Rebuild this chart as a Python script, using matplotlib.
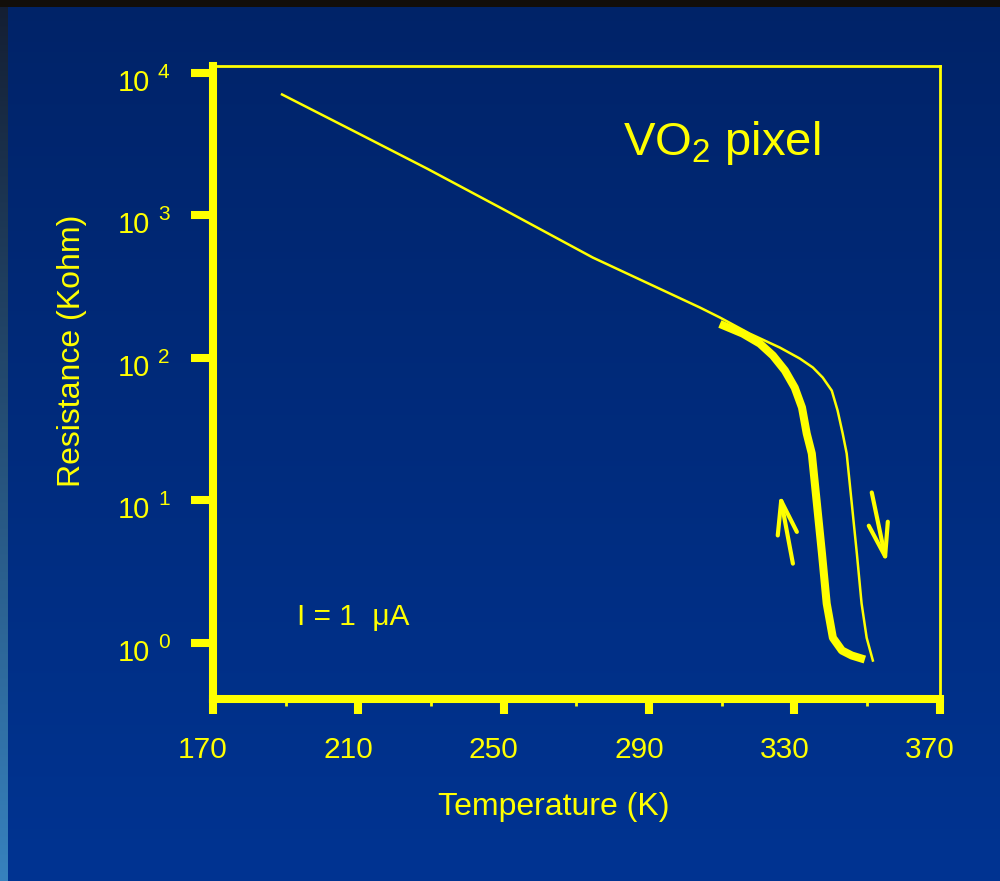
import numpy as np
import matplotlib.pyplot as plt
import matplotlib.transforms as mtransforms

plt.rcParams['font.family'] = ['Liberation Sans', 'DejaVu Sans']
plt.rcParams['mathtext.fontset'] = 'custom'
plt.rcParams['mathtext.rm'] = 'Liberation Sans'
plt.rcParams['mathtext.it'] = 'Liberation Sans:italic'
plt.rcParams['mathtext.default'] = 'regular'

# heating run (thin line): temperature (K), resistance (Kohm)
T_heat = [189.0, 210.0, 228.9, 250.0, 274.5, 304.0, 309.5, 317.7, 326.0, 331.5,
          335.1, 337.8, 340.3, 341.9, 343.3, 344.4, 345.8, 347.2, 348.5, 349.9,
          351.6]
R_heat = [7015, 3741, 2118, 1094, 503.5, 224.4, 191.0, 147.3, 117.5, 98.4,
          85.1, 72.4, 58.6, 42.5, 29.3, 21.2, 9.45, 4.21, 1.88, 1.08,
          0.748]

# cooling run (thick line)
T_cool = [309.5, 315.8, 320.5, 324.1, 327.4, 330.1, 332.1, 333.4, 334.8, 336.2,
          337.6, 338.9, 340.6, 343.1, 345.8, 349.4]
R_cool = [172.0, 147.3, 125.3, 103.3, 81.1, 61.5, 44.6, 29.3, 21.2, 9.45,
          4.21, 1.88, 1.08, 0.879, 0.811, 0.760]

xticks = [170, 210, 250, 290, 330, 370]
xminor = [190, 230, 270, 310, 350]
decades = [0, 1, 2, 3, 4]

# hand drawn arrows: (tail T, tail R), (head T, head R)
arrow_up = ((329.6, 3.58), (326.0, 11.1))
arrow_down = ((351.3, 11.3), (355.4, 3.58))

yellow = '#ffff00'

fig = plt.figure(figsize=(10, 8.81), dpi=100)

# slide background
h, w = 881, 1000
g = np.linspace(0, 1, h)[:, None, None]
top = np.array([0, 35, 104]) / 255
bot = np.array([0, 52, 146]) / 255
bg = np.repeat(top + (bot - top) * g, w, axis=1)
strip_top = np.array([20, 30, 50]) / 255
strip_bot = np.array([55, 130, 190]) / 255
bg[:, :8] = strip_top + (strip_bot - strip_top) * g
bg[:7, :] = np.array([18, 14, 10]) / 255
axbg = fig.add_axes([0, 0, 1, 1])
axbg.imshow(bg, aspect='auto')
axbg.axis('off')

ax = fig.add_axes([0.213, 0.2066, 0.7267, 0.719])
ax.set_facecolor('none')
ax.plot(T_heat, R_heat, color=yellow, lw=1.8, solid_joinstyle='round')
ax.plot(T_cool, R_cool, color=yellow, lw=5.8, solid_capstyle='butt',
        solid_joinstyle='round')
ax.set_yscale('log')
ax.set_xlim(170, 370)
ax.set_ylim(10 ** -0.396, 10 ** 4.049)

for a in (arrow_up, arrow_down):
    ax.annotate('', xy=a[1], xytext=a[0],
                arrowprops=dict(arrowstyle='->,head_length=1.2,head_width=0.35',
                                color=yellow, lw=3, mutation_scale=20,
                                shrinkA=0, shrinkB=0))

for s in ['left', 'bottom']:
    ax.spines[s].set_linewidth(5.8)
for s in ['top', 'right']:
    ax.spines[s].set_linewidth(2)
for s in ax.spines.values():
    s.set_color(yellow)

ax.set_xticks(xticks)
ax.set_xticks(xminor, minor=True)
ax.set_xticklabels([str(t) for t in xticks])
ax.tick_params(axis='x', which='major', length=11, width=5.8, color=yellow,
               labelcolor=yellow, labelsize=21.5, pad=16)
ax.tick_params(axis='x', which='minor', length=5, width=2, color=yellow)
# labels sit a little left of their ticks in the original
shift = mtransforms.ScaledTranslation(-10 / 100, 0, fig.dpi_scale_trans)
for lab in ax.get_xticklabels():
    lab.set_transform(lab.get_transform() + shift)
ax.set_yticks([10.0 ** d for d in decades])
ax.yaxis.set_minor_locator(plt.NullLocator())
ax.tick_params(axis='y', which='major', length=16, width=5.8, color=yellow,
               labelleft=False)

for d in decades:
    ax.annotate('10', xy=(0, 10.0 ** d), xycoords=('axes fraction', 'data'),
                xytext=(-45.4, -13), textcoords='offset points',
                ha='right', va='baseline', fontsize=21, color=yellow)
    ax.annotate(str(d), xy=(0, 10.0 ** d), xycoords=('axes fraction', 'data'),
                xytext=(-39.6, -3.6), textcoords='offset points',
                ha='left', va='baseline', fontsize=15, color=yellow)

ax.text(0.564, 0.8587, 'VO$_2$ pixel', transform=ax.transAxes, fontsize=34,
        color=yellow, ha='left', va='baseline')
ax.text(0.1156, 0.1168, 'I = 1  \u03bcA', transform=ax.transAxes, fontsize=21.5,
        color=yellow, ha='left', va='baseline')

fig.text(0.554, 1 - 807 / 881, 'Temperature (K)', fontsize=23, color=yellow,
         ha='center', va='center')
fig.text(0.072, 1 - 351 / 881, 'Resistance (Kohm)', fontsize=23, color=yellow,
         ha='center', va='center', rotation=90)

fig.savefig('out.png', dpi=100)
